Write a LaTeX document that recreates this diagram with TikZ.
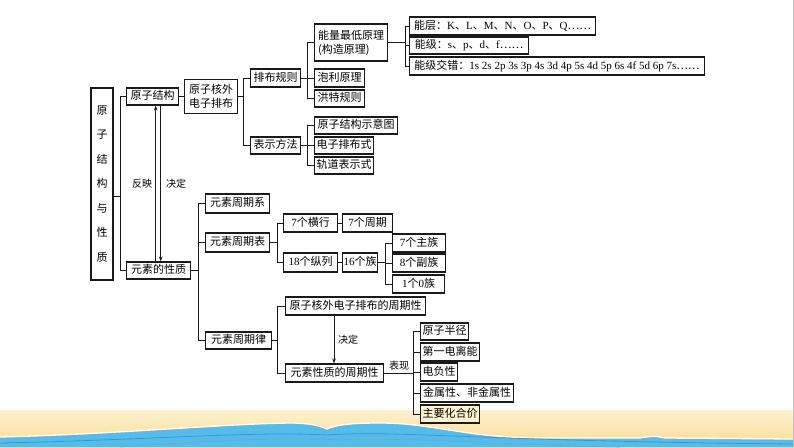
\documentclass[tikz,border=0pt]{standalone}
\usepackage{fontspec}
\setmainfont{Liberation Serif}
\newfontfamily\cjk{Noto Sans CJK SC}
\usetikzlibrary{arrows.meta}
\newcommand\lat[1]{\textrm{#1}}
\definecolor{sandA}{HTML}{FDF1CE}
\definecolor{sandB}{HTML}{F9DC96}
\definecolor{wat}{HTML}{55BCEA}
\definecolor{watD}{HTML}{2E9BD6}
\definecolor{ln}{HTML}{1A1A1A}
\begin{document}
\begin{tikzpicture}[x=1pt,y=-1pt,
  bx/.style={draw=ln, line width=1.1pt, fill=white, inner sep=0pt, anchor=west,
    font=\cjk\fontsize{11}{14}\selectfont},
  box/.style={bx, text height=8.5pt, text depth=2pt},
  conn/.style={draw=ln, line width=0.9pt},
  arr/.style={conn, -{Stealth[length=5pt,width=3.6pt]}},
  lbl/.style={font=\cjk\fontsize{10}{12}\selectfont, inner sep=0pt}]
\useasboundingbox (0,0) rectangle (794,447);
% ---------- background ----------
\shade[top color=sandA, bottom color=sandB] (0,410) rectangle (794,447);
\fill[wat] (0,437) .. controls (120,434) and (220,424) .. (290,423)
  .. controls (310,423) and (320,426) .. (327,429)
  .. controls (335,425) and (350,423) .. (380,423)
  .. controls (430,423) and (460,436) .. (530,438) -- (640,438)
  .. controls (650,436) and (658,436) .. (665,438) -- (794,439)
  -- (794,447) -- (0,447) -- cycle;
\draw[white, line width=1.3pt] (0,437) .. controls (120,434) and (220,424) .. (290,423)
  .. controls (310,423) and (320,426) .. (327,429)
  .. controls (335,425) and (350,423) .. (380,423)
  .. controls (430,423) and (460,436) .. (530,438) -- (640,438)
  .. controls (650,436) and (658,436) .. (665,438) -- (794,439);
\draw[watD, line width=0.8pt] (0,443) .. controls (150,440) and (250,431) .. (327,435)
  .. controls (400,430) and (470,441) .. (794,444);
\draw[watD!80, line width=0.6pt] (120,447) .. controls (220,440) and (290,437) .. (340,440)
  .. controls (420,437) and (500,445) .. (620,447);
\draw[black!25, line width=0.8pt] (793,0) -- (793,447);
% ---------- nodes ----------
\node[bx, anchor=center, align=center, minimum width=22pt, minimum height=192pt,
  font=\cjk\fontsize{11}{24.5}\selectfont] (T) at (102,184) {原\\子\\结\\构\\与\\性\\质};
\node[box, minimum width=52pt, minimum height=17pt] (yzjg) at (126,96.5) {原子结构};
\node[bx, align=center, minimum width=53pt, minimum height=34pt] (hwpb) at (184,96.5) {原子核外\\电子排布};
\node[box, minimum width=50pt, minimum height=18pt] (pbgz) at (250,78) {排布规则};
\node[box, minimum width=50pt, minimum height=17pt] (bsff) at (250,145.5) {表示方法};
\node[bx, align=left, minimum width=73pt, minimum height=37pt] (nlzd) at (314,42.5) {能量最低原理\\(构造原理)};
\node[box, minimum width=50pt, minimum height=18pt] (plyl) at (314,78) {泡利原理};
\node[box, minimum width=50pt, minimum height=17pt] (hate) at (314,98.5) {洪特规则};
\node[box, minimum width=83pt, minimum height=17pt] (sy) at (314,125.5) {原子结构示意图};
\node[box, minimum width=59pt, minimum height=17pt] (dzpbs) at (314,145.5) {电子排布式};
\node[box, minimum width=59pt, minimum height=17pt] (gdbss) at (314,165.5) {轨道表示式};
\node[box, minimum width=186pt, minimum height=18pt] (nc) at (409,26)
  {能层：\lat{K}、\lat{L}、\lat{M}、\lat{N}、\lat{O}、\lat{P}、\lat{Q}……};
\node[box, minimum width=119pt, minimum height=17pt] (nj) at (409,45.5)
  {能级：\lat{s}、\lat{p}、\lat{d}、\lat{f}……};
\node[box, minimum width=295pt, minimum height=18pt] (njjc) at (409,66)
  {能级交错：\lat{1s 2s 2p 3s 3p 4s 3d 4p 5s 4d 5p 6s 4f 5d 6p 7s}……};
\node[box, minimum width=64pt, minimum height=17pt] (xzxz) at (126,270.5) {元素的性质};
\node[box, minimum width=64pt, minimum height=19pt] (zqx) at (205,203.5) {元素周期系};
\node[box, minimum width=64pt, minimum height=19pt] (zqb) at (205,242.5) {元素周期表};
\node[box, minimum width=54pt, minimum height=18pt] (hh) at (283,223) {\lat{7}个横行};
\node[box, minimum width=50pt, minimum height=18pt] (zq) at (342,223) {\lat{7}个周期};
\node[box, minimum width=54pt, minimum height=19pt] (zl) at (283,262.5) {\lat{18}个纵列};
\node[box, minimum width=35pt, minimum height=19pt] (z16) at (342,262.5) {\lat{16}个族};
\node[box, minimum width=53pt, minimum height=18pt] (zz) at (392,243) {\lat{7}个主族};
\node[box, minimum width=53pt, minimum height=18pt] (fz) at (392,263) {\lat{8}个副族};
\node[box, minimum width=52pt, minimum height=18pt] (z0) at (392,284) {\lat{1}个\lat{0}族};
\node[box, minimum width=66pt, minimum height=17pt] (zql) at (205,340.5) {元素周期律};
\node[box, minimum width=140pt, minimum height=18pt] (hwzq) at (285,306) {原子核外电子排布的周期性};
\node[box, minimum width=98pt, minimum height=18pt] (xzzq) at (285,373) {元素性质的周期性};
\node[box, minimum width=48pt, minimum height=17pt] (yzbj) at (420,331.5) {原子半径};
\node[box, minimum width=59pt, minimum height=18pt] (dyd) at (420,352) {第一电离能};
\node[box, minimum width=37pt, minimum height=18pt] (dfx) at (420,372) {电负性};
\node[box, minimum width=93pt, minimum height=18pt] (jsx) at (420,393) {金属性、非金属性};
\node[box, fill=sandA, minimum width=59pt, minimum height=18pt] (zyhj) at (420,414) {主要化合价};
% labels
\node[lbl] (l1) at (142,184) {反映};
\node[lbl] (l2) at (176,184) {决定};
\node[lbl] (l3) at (348,340) {决定};
\node[lbl] (l4) at (399,366) {表现};
% ---------- bus coordinates ----------
\coordinate (b0) at (120,0);
\coordinate (b1) at (243,0);
\coordinate (b2) at (307,0);
\coordinate (b3) at (405,0);
\coordinate (b4) at (198,0);
\coordinate (b5) at (277,0);
\coordinate (b6) at (385,0);
\coordinate (b7) at (413,0);
\coordinate (a1) at (155.7,0);
\coordinate (a2) at (160.7,0);
\coordinate (a3) at (334,0);
\coordinate (Ts) at ([yshift=-12.5pt]T.east);
% ---------- connectors ----------
\draw[conn] (Ts) -- (Ts -| b0) |- (yzjg.west);
\draw[conn] (Ts -| b0) |- (xzxz.west);
\draw[arr] (xzxz.north -| a1) -- (yzjg.south -| a1);
\draw[arr] (yzjg.south -| a2) -- (xzxz.north -| a2);
\draw[conn] (yzjg.east) -- (hwpb.west);
\draw[conn] (hwpb.east) -- (hwpb.east -| b1) |- (pbgz.west);
\draw[conn] (hwpb.east -| b1) |- (bsff.west);
\draw[conn] (pbgz.east) -- (plyl.west);
\draw[conn] (pbgz.east -| b2) |- (nlzd.west);
\draw[conn] (pbgz.east -| b2) |- (hate.west);
\draw[conn] (bsff.east) -- (dzpbs.west);
\draw[conn] (bsff.east -| b2) |- (sy.west);
\draw[conn] (bsff.east -| b2) |- (gdbss.west);
\draw[conn] (nlzd.east) -- (nlzd.east -| b3) |- (nc.west);
\draw[conn] (nlzd.east -| b3) |- (nj.west);
\draw[conn] (nlzd.east -| b3) |- (njjc.west);
\draw[conn] (xzxz.east) -- (xzxz.east -| b4) |- (zqx.west);
\draw[conn] (xzxz.east -| b4) |- (zqb.west);
\draw[conn] (xzxz.east -| b4) |- (zql.west);
\draw[conn] (zqb.east) -- (zqb.east -| b5) |- (hh.west);
\draw[conn] (zqb.east -| b5) |- (zl.west);
\draw[conn] (hh.east) -- (zq.west);
\draw[conn] (zl.east) -- (z16.west);
\draw[conn] (z16.east) -- (z16.east -| b6) |- (zz.west);
\draw[conn] (z16.east -| b6) |- (fz.west);
\draw[conn] (z16.east -| b6) |- (z0.west);
\draw[conn] (zql.east) -- (zql.east -| b5) |- (hwzq.west);
\draw[conn] (zql.east -| b5) |- (xzzq.west);
\draw[arr] (hwzq.south -| a3) -- (xzzq.north -| a3);
\draw[conn] (xzzq.east) -- (xzzq.east -| b7) |- (yzbj.west);
\draw[conn] (xzzq.east -| b7) |- (dyd.west);
\draw[conn] (xzzq.east -| b7) |- (dfx.west);
\draw[conn] (xzzq.east -| b7) |- (jsx.west);
\draw[conn] (xzzq.east -| b7) |- (zyhj.west);
\end{tikzpicture}
\end{document}
